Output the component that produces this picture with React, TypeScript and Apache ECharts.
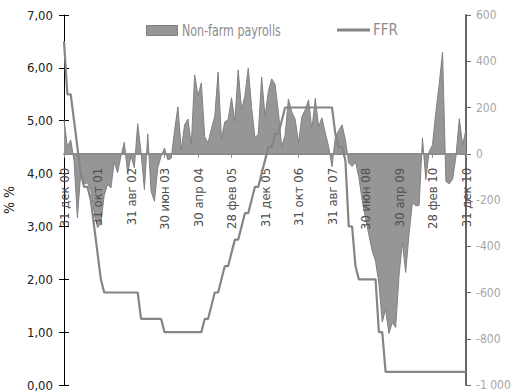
import React, { useEffect, useRef } from "react";
import * as echarts from "echarts";

// Month-end dates, Dec 2000 .. Dec 2010
const monthNames = ["янв", "фев", "мар", "апр", "май", "июн", "июл", "авг", "сен", "окт", "ноя", "дек"];
const categories: string[] = [];
for (let i = 0; i <= 120; i++) {
  const y = 2000 + Math.floor((11 + i) / 12);
  const m = (11 + i) % 12;
  const day = new Date(y, m + 1, 0).getDate();
  categories.push(`${day} ${monthNames[m]} ${String(y % 100).padStart(2, "0")}`);
}

// Monthly change in non-farm payrolls, thousands
const payrolls2000 = [147];
const payrolls2001 = [30, 60, -30, -277, -80, -130, -125, -160, -250, -320, -300, -180];
const payrolls2002 = [-132, -148, -35, -82, -9, 50, -85, -8, -60, 130, 5, -155];
const payrolls2003 = [86, -163, -206, -60, -10, 25, -26, -20, 100, 203, 17, 125];
const payrolls2004 = [150, 39, 341, 250, 307, 74, 47, 108, 160, 353, 64, 138];
const payrolls2005 = [147, 242, 140, 363, 190, 250, 371, 200, 69, 85, 332, 160];
const payrolls2006 = [270, 324, 300, 180, 30, 80, 237, 180, 150, 47, 160, 190];
const payrolls2007 = [233, 104, 240, 117, 155, 90, 30, -56, 73, 100, 125, 60];
const payrolls2008 = [-40, -55, -35, -100, -200, -280, -350, -420, -465, -560, -728, -673];
const payrolls2009 = [-777, -730, -751, -528, -384, -513, -346, -212, -225, -224, 69, -112];
const payrolls2010 = [10, 39, 180, 300, 439, -120, -130, -110, -12, 151, 39, 104];

// Federal funds target rate at month end, %
const ffr2000 = [6.5];
const ffr2001 = [5.5, 5.5, 5.0, 4.5, 4.0, 3.75, 3.75, 3.5, 3.0, 2.5, 2.0, 1.75];
const ffr2002 = [1.75, 1.75, 1.75, 1.75, 1.75, 1.75, 1.75, 1.75, 1.75, 1.75, 1.25, 1.25];
const ffr2003 = [1.25, 1.25, 1.25, 1.25, 1.25, 1.0, 1.0, 1.0, 1.0, 1.0, 1.0, 1.0];
const ffr2004 = [1.0, 1.0, 1.0, 1.0, 1.0, 1.25, 1.25, 1.5, 1.75, 1.75, 2.0, 2.25];
const ffr2005 = [2.25, 2.5, 2.75, 2.75, 3.0, 3.25, 3.25, 3.5, 3.75, 3.75, 4.0, 4.25];
const ffr2006 = [4.5, 4.5, 4.75, 4.75, 5.0, 5.25, 5.25, 5.25, 5.25, 5.25, 5.25, 5.25];
const ffr2007 = [5.25, 5.25, 5.25, 5.25, 5.25, 5.25, 5.25, 5.25, 4.75, 4.5, 4.5, 4.25];
const ffr2008 = [3.0, 3.0, 2.25, 2.0, 2.0, 2.0, 2.0, 2.0, 2.0, 1.0, 1.0, 0.25];
const ffr2009 = [0.25, 0.25, 0.25, 0.25, 0.25, 0.25, 0.25, 0.25, 0.25, 0.25, 0.25, 0.25];
const ffr2010 = [0.25, 0.25, 0.25, 0.25, 0.25, 0.25, 0.25, 0.25, 0.25, 0.25, 0.25, 0.25];

const payrolls = [
  ...payrolls2000, ...payrolls2001, ...payrolls2002, ...payrolls2003, ...payrolls2004, ...payrolls2005,
  ...payrolls2006, ...payrolls2007, ...payrolls2008, ...payrolls2009, ...payrolls2010,
];
const ffr = [
  ...ffr2000, ...ffr2001, ...ffr2002, ...ffr2003, ...ffr2004, ...ffr2005,
  ...ffr2006, ...ffr2007, ...ffr2008, ...ffr2009, ...ffr2010,
];

const seriesNames = ["Non-farm payrolls", "FFR"];

const FONT = '"DejaVu Sans Condensed", "Liberation Sans Narrow", sans-serif';

// plot box
const GRID_TOP = 15;
const GRID_BOTTOM = 7;
const CHART_H = 392;
const RIGHT_MIN = -1000;
const RIGHT_MAX = 600;
const plotH = CHART_H - GRID_TOP - GRID_BOTTOM;
// lift the category axis from the bottom edge up to the zero of the right axis
const zeroLift = (plotH * (0 - RIGHT_MIN)) / (RIGHT_MAX - RIGHT_MIN);

const fmtPct = (v: number) => v.toFixed(2).replace(".", ",");
const fmtK = (v: number) => {
  const a = Math.abs(v);
  return a >= 1000 ? `${v < 0 ? "-" : ""}${Math.floor(a / 1000)} ${String(a % 1000).padStart(3, "0")}` : String(v);
};

export default function App() {
  const ref = useRef<HTMLDivElement>(null);

  useEffect(() => {
    document.body.style.margin = "0";
    if (!ref.current) return;
    const chart = echarts.init(ref.current, null, { renderer: "svg" });
    const legendText = { fontFamily: FONT, fontSize: 16, fill: "#8c8c8c", verticalAlign: "middle" as const };
    chart.setOption({
      animation: false,
      grid: { left: 64, right: 50, top: GRID_TOP, bottom: GRID_BOTTOM, containLabel: false, outerBoundsMode: "none" },
      legend: [
        {
          data: [{ name: seriesNames[0], icon: "rect", itemStyle: { color: "#969696", borderColor: "#808080", borderWidth: 1 } }],
          left: 141,
          top: 20,
          itemWidth: 31,
          itemHeight: 10,
          formatter: () => "",
        },
        {
          data: [{ name: seriesNames[1], icon: "rect", itemStyle: { color: "#858585", borderWidth: 0 } }],
          left: 332,
          top: 23.5,
          itemWidth: 33,
          itemHeight: 3,
          formatter: () => "",
        },
      ],
      graphic: [
        { type: "text", x: 182, y: 30, scaleX: 0.77, style: { ...legendText, text: seriesNames[0] } },
        { type: "text", x: 373, y: 30, scaleX: 0.94, style: { ...legendText, text: seriesNames[1] } },
      ],
      xAxis: {
        type: "category",
        data: categories,
        boundaryGap: false,
        z: 4,
        offset: -zeroLift,
        axisLine: { onZero: false, lineStyle: { color: "#8c8c8c", width: 2 } },
        axisTick: { interval: 9, length: 4, lineStyle: { color: "#8c8c8c" } },
        axisLabel: { interval: 9, rotate: 90, margin: 14, fontFamily: FONT, fontSize: 13, color: "#505050" },
        splitLine: { show: false },
      },
      yAxis: [
        {
          type: "value",
          min: 0,
          max: 7,
          interval: 1,
          position: "left",
          name: "% %",
          nameLocation: "middle",
          nameGap: 33,
          nameRotate: 90,
          nameTextStyle: { fontFamily: FONT, fontSize: 14, color: "#222" },
          axisLine: { show: true, lineStyle: { color: "#000" } },
          axisTick: { show: true, length: 5, lineStyle: { color: "#000" } },
          axisLabel: { formatter: fmtPct, margin: 11, fontFamily: FONT, fontSize: 13, color: "#222" },
          splitLine: { show: false },
        },
        {
          type: "value",
          min: RIGHT_MIN,
          max: RIGHT_MAX,
          interval: 200,
          position: "right",
          axisLine: { show: true, lineStyle: { color: "#666", width: 2 } },
          axisTick: { show: true, length: 5, lineStyle: { color: "#666" } },
          axisLabel: { formatter: fmtK, margin: 10, fontFamily: FONT, fontSize: 12, color: "#a6a6a6" },
          splitLine: { show: false },
        },
        {
          type: "value",
          min: 0,
          max: 7,
          interval: 1,
          position: "left",
          axisLine: { show: false },
          axisTick: { show: true, inside: true, length: 5, lineStyle: { color: "#000" } },
          axisLabel: { show: false },
          splitLine: { show: false },
        },
      ],
      series: [
        {
          name: seriesNames[0],
          type: "line",
          yAxisIndex: 1,
          data: payrolls,
          symbol: "none",
          z: 2,
          lineStyle: { color: "#808080", width: 1 },
          itemStyle: { color: "#969696" },
          areaStyle: { color: "#969696", opacity: 1 },
        },
        {
          name: seriesNames[1],
          type: "line",
          yAxisIndex: 0,
          data: ffr,
          symbol: "none",
          z: 5,
          lineStyle: { color: "#858585", width: 2.2 },
          itemStyle: { color: "#858585" },
        },
      ],
    });
    return () => chart.dispose();
  }, []);

  return <div ref={ref} style={{ width: 516, height: 392 }} />;
}
